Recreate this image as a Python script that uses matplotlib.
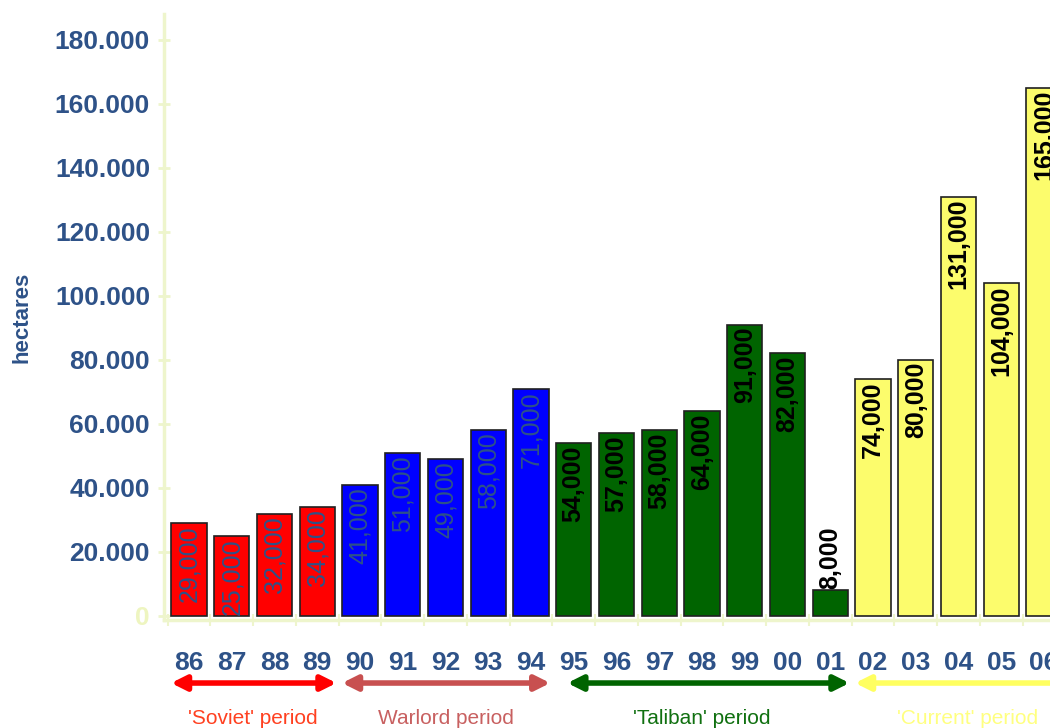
import numpy as np
import matplotlib.pyplot as plt
from matplotlib import font_manager

years = ['86','87','88','89','90','91','92','93','94','95','96','97','98','99','00','01','02','03','04','05','06']
hectares = [29000,25000,32000,34000,41000,51000,49000,58000,71000,54000,57000,58000,64000,91000,82000,8000,74000,80000,131000,104000,165000]
period_of_bar = [0,0,0,0,1,1,1,1,1,2,2,2,2,2,2,2,3,3,3,3,3]
period_names = ["'Soviet' period", "Warlord period", "'Taliban' period", "'Current' period"]
yticks = [0,20000,40000,60000,80000,100000,120000,140000,160000,180000]
ytick_labels = ['0','20.000','40.000','60.000','80.000','100.000','120.000','140.000','160.000','180.000']

# style
bar_cols = ['#ff0000','#0000ff','#006400','#fcfc6c']
arrow_cols = ['#ff0000','#c85050','#006400','#ffff60']
text_cols = ['#ff4020','#c86060','#107010','#ffff80']
navy = '#2e5288'
axcol = '#eef5cc'

names = [f.name for f in font_manager.fontManager.ttflist]
fam = ['Liberation Sans Narrow', 'Liberation Sans', 'DejaVu Sans'] if 'Liberation Sans Narrow' in names else ['Liberation Sans', 'DejaVu Sans']
plt.rcParams['font.family'] = fam

fig = plt.figure(figsize=(10.5, 7.28), dpi=100)
ax = fig.add_axes([164/1050, 108/728, 1-164/1050, 606/728])

x = np.arange(len(years))
cols = [bar_cols[p] for p in period_of_bar]
ax.bar(x, hectares, width=0.82, color=cols, edgecolor='#202020', linewidth=1.2, zorder=2)

for i, v in enumerate(hectares):
    c = navy if period_of_bar[i] < 2 else 'black'
    w = 'normal' if period_of_bar[i] < 2 else 'bold'
    if v < 15000:
        ax.text(i, v + 300, f'{v:,}', rotation=90, ha='center', va='bottom', fontsize=18, color=c, fontweight=w, zorder=3)
    else:
        ax.text(i, v - 700, f'{v:,}', rotation=90, ha='center', va='top', fontsize=18, color=c, fontweight=w, zorder=3)

ax.set_xlim(-0.585, 20.14)
ax.set_ylim(-1250, 188000)
ax.set_yticks(yticks)
ax.set_yticklabels(ytick_labels)
for lab in ax.get_yticklabels():
    lab.set_color(navy)
ax.get_yticklabels()[0].set_color('#eef5c0')
ax.tick_params(axis='y', direction='inout', length=8, color=axcol, width=2, labelsize=19, pad=6)
for lab in ax.get_yticklabels():
    lab.set_fontweight('bold')

ax.set_xticks(x)
ax.set_xticklabels(years, fontsize=19, fontweight='bold', color=navy)
ax.tick_params(axis='x', length=0, pad=22)
ax.set_xticks(np.arange(-0.5, 20.5, 1.0), minor=True)
ax.tick_params(axis='x', which='minor', direction='inout', length=8, width=1.5, color=axcol)

for s in ['top','right']:
    ax.spines[s].set_visible(False)
for s in ['left','bottom']:
    ax.spines[s].set_color(axcol)
    ax.spines[s].set_linewidth(2.5)

ax.set_ylabel('hectares', fontsize=16, fontweight='bold', color=navy, labelpad=16)

# period arrows
per = np.array(period_of_bar)
for k, name in enumerate(period_names):
    idx = x[per == k]
    x0 = idx.min() - 0.42
    x1 = idx.max() + 0.45
    if k == 2:
        x0 = idx.min() - 0.15
    if k == 3:
        x1 = idx.max() + 1.0
    ax.annotate('', xy=(x1, -0.104), xytext=(x0, -0.104), xycoords=('data', 'axes fraction'),
                textcoords=('data', 'axes fraction'), annotation_clip=False,
                arrowprops=dict(arrowstyle='<|-|>', color=arrow_cols[k], lw=4, mutation_scale=22, shrinkA=0, shrinkB=0))
    xc = (idx.min() + idx.max()) / 2
    if k == 3:
        xc = 18.2
    ax.text(xc, -0.162, name, transform=ax.get_xaxis_transform(), ha='center', va='center',
            fontsize=15, color=text_cols[k], clip_on=False)

fig.savefig('out.png', dpi=100)
